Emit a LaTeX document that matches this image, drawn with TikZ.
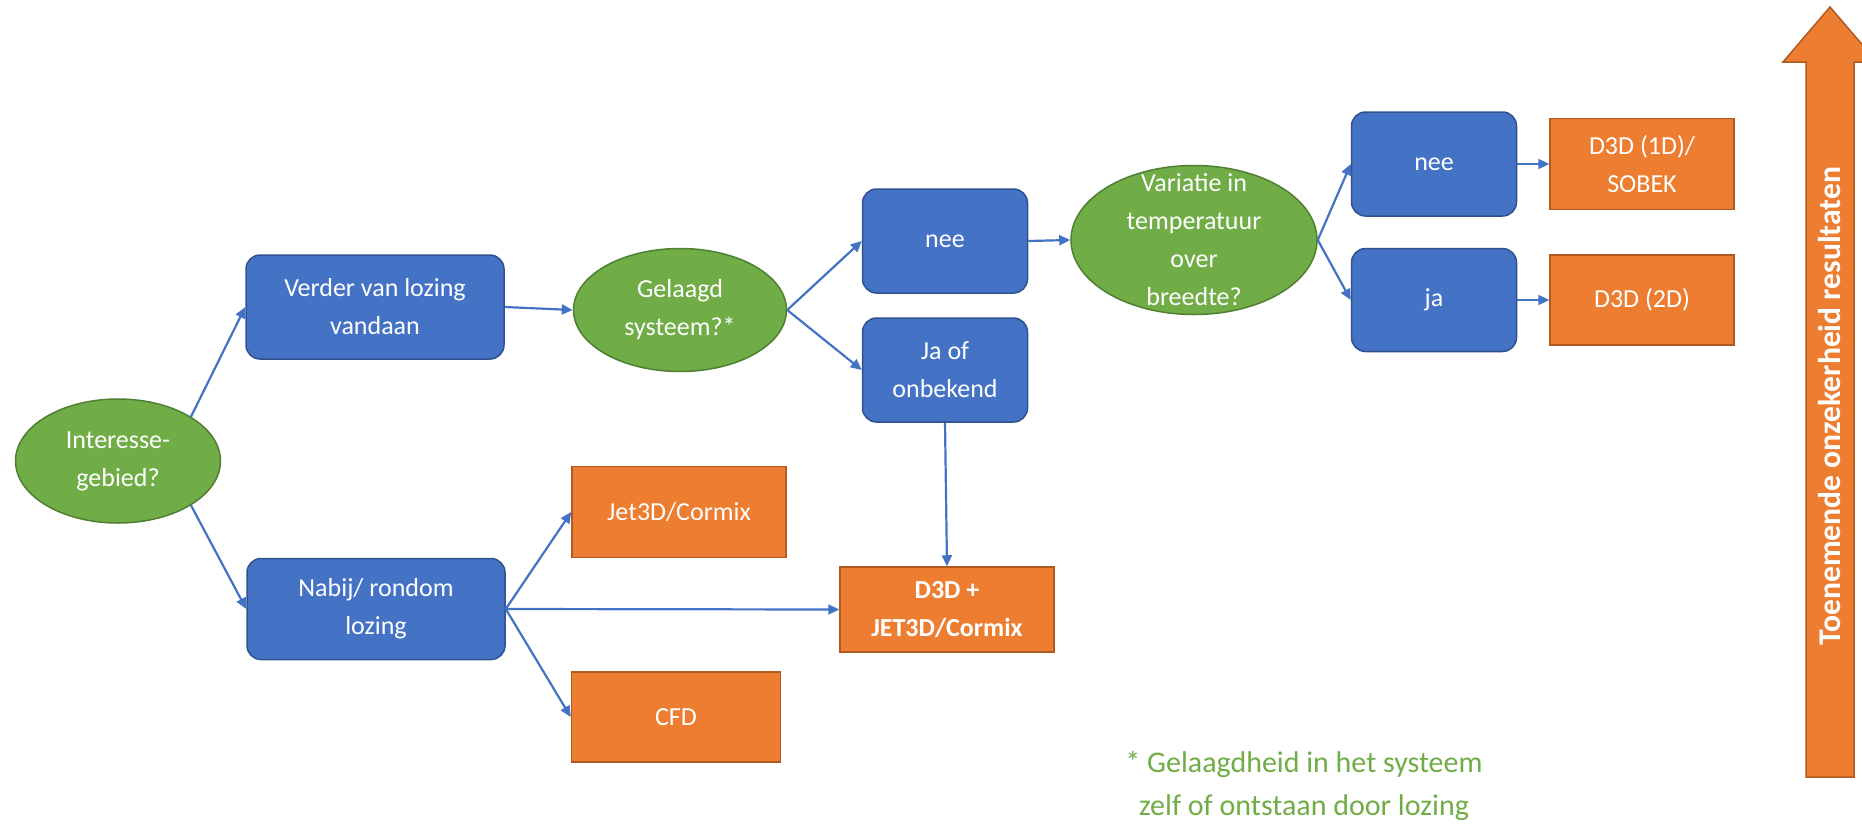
\documentclass[tikz,border=0pt]{standalone}
\usepackage{fontspec}
\setmainfont{Carlito}
\usetikzlibrary{shapes.geometric,arrows.meta}

\definecolor{blauw}{HTML}{4472C4}
\definecolor{blauwrand}{HTML}{2F528F}
\definecolor{groen}{HTML}{70AD47}
\definecolor{groenrand}{HTML}{507E32}
\definecolor{oranje}{HTML}{ED7D31}
\definecolor{oranjerand}{HTML}{AE5A21}

\tikzset{
  tekst/.style={text=white, align=center, font=\fontsize{13}{19}\selectfont},
  vraag/.style={tekst, ellipse, draw=groenrand, fill=groen, line width=0.75pt, inner sep=0pt},
  keuze/.style={tekst, rectangle, rounded corners=7pt, draw=blauwrand, fill=blauw, line width=0.75pt, inner sep=0pt, minimum width=82.5pt, minimum height=52pt},
  model/.style={tekst, rectangle, draw=oranjerand, fill=oranje, line width=0.75pt, inner sep=0pt},
  pijl/.style={draw=blauw, line width=1.1pt, -{Triangle[length=5.5pt,width=5pt]}},
}

\begin{document}
\begin{tikzpicture}[x=0.5pt,y=0.5pt,yscale=-1,xscale=1]
\useasboundingbox (0,0) rectangle (1862,825);

%Shape: Ellipse
\node[vraag, minimum width=102.5pt, minimum height=62pt] (interesse) at (118,461) {Interesse-\\gebied?};
%Shape: Rounded Rectangle
\node[keuze, minimum width=129pt] (verder) at (375,307) {Verder van lozing\\vandaan};
\node[keuze, minimum width=129pt, minimum height=50.5pt] (nabij) at (376,609) {Nabij/ rondom\\lozing};
%Shape: Ellipse
\node[vraag, minimum width=106.5pt, minimum height=61.5pt] (gelaagd) at (680,310) {Gelaagd\\systeem?*};
%Shape: Rounded Rectangle
\node[keuze] (neelaag) at (945,241) {nee};
\node[keuze] (jaof) at (945,370) {Ja of\\onbekend};
%Shape: Ellipse
\node[vraag, minimum width=123pt, minimum height=74.5pt] (variatie) at (1194,240) {};
\node[tekst] (variatietekst) at (variatie.center) {Variatie in\\temperatuur\\over\\breedte?};
%Shape: Rounded Rectangle
\node[keuze] (neevar) at (1434,164) {nee};
\node[keuze, minimum height=51.5pt] (javar) at (1434,300) {ja};
%Shape: Rectangle
\node[model, minimum width=92pt, minimum height=45.5pt] (sobek) at (1642,164) {D3D (1D)/\\SOBEK};
\node[model, minimum width=92pt, minimum height=45pt] (tweed) at (1642,300) {D3D (2D)};
\node[model, minimum width=107pt, minimum height=45.5pt] (jet) at (679,512) {Jet3D/Cormix};
\node[model, minimum width=107pt, minimum height=42.5pt, font=\fontsize{13}{19}\selectfont\bfseries] (combi) at (947,609.5) {D3D +\\JET3D/Cormix};
\node[model, minimum width=104.5pt, minimum height=45pt] (cfd) at (676,717) {CFD};

%Straight Lines
\draw[pijl] (interesse.north east) -- (verder.west);
\draw[pijl] (interesse.south east) -- (nabij.west);
\draw[pijl] (verder.east) -- (gelaagd.west);
\draw[pijl] (gelaagd.east) -- (neelaag.west);
\draw[pijl] (gelaagd.east) -- (jaof.west);
\draw[pijl] (neelaag.east) -- (variatie.west);
\draw[pijl] (variatie.east) -- (neevar.west);
\draw[pijl] (variatie.east) -- (javar.west);
\draw[pijl] (neevar.east) -- (sobek.west);
\draw[pijl] (javar.east) -- (tweed.west);
\draw[pijl] (jaof.south) -- (combi.north);
\draw[pijl] (nabij.east) -- (jet.west);
\draw[pijl] (nabij.east) -- (combi.west);
\draw[pijl] (nabij.east) -- (cfd.west);

%Shape: Up Arrow
\draw[draw=oranjerand, fill=oranje, line width=0.75pt] (1806,777) -- (1806,62) -- (1783,62) -- (1830,7) -- (1877,62) -- (1854,62) -- (1854,777) -- cycle;

% Text Node
\node[text=white, rotate=90, font=\fontsize{15.8}{19}\selectfont\bfseries] (trend) at (1830,406) {Toenemende onzekerheid resultaten};
% Text Node
\node[align=center, text=groen, font=\fontsize{15}{21.5}\selectfont] (voetnoot) at (1304,786) {* Gelaagdheid in het systeem\\zelf of ontstaan door lozing};

\end{tikzpicture}
\end{document}
